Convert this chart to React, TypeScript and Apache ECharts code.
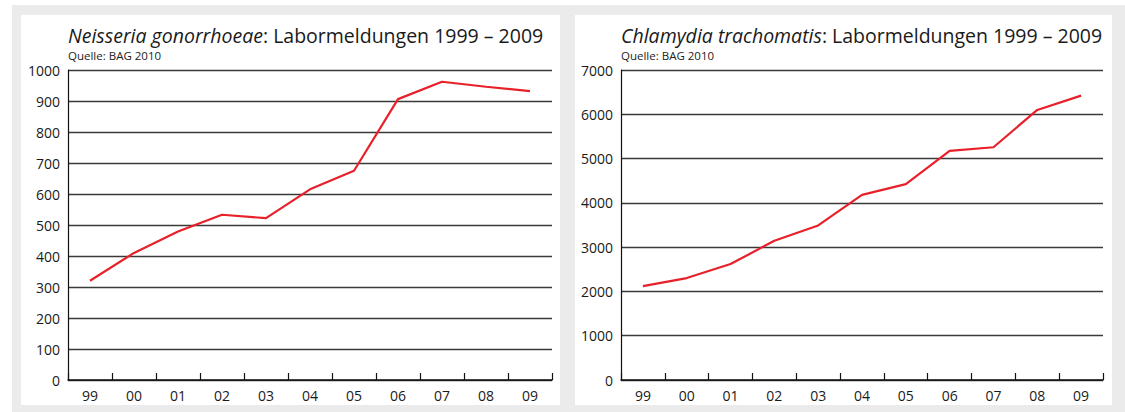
import React, { useEffect, useRef } from "react";
import * as echarts from "echarts";

const years = ["99", "00", "01", "02", "03", "04", "05", "06", "07", "08", "09"];
const gonorrhoeae = [320, 410, 479, 533, 522, 615, 675, 906, 962, 946, 932];
const chlamydia = [2121, 2302, 2618, 3143, 3490, 4181, 4422, 5173, 5256, 6098, 6422];
const leftTicks = { min: 0, max: 1000, interval: 100 };
const rightTicks = { min: 0, max: 7000, interval: 1000 };
const titleSuffix = ": Labormeldungen 1999 – 2009";
const source = "Quelle: BAG 2010";

const FONT = "'Open Sans', sans-serif";
const RED = "#e8202a";

export default function App() {
  const ref = useRef<HTMLDivElement>(null);

  useEffect(() => {
    if (!ref.current) return;
    const chart = echarts.init(ref.current, undefined, { renderer: "svg" });

    const xAxisBase = (gridIndex: number) => ({
      type: "category" as const,
      gridIndex,
      data: years,
      boundaryGap: true,
      axisLine: { show: true, lineStyle: { color: "#111", width: 1.5 } },
      axisTick: { show: true, inside: true, length: 7, lineStyle: { color: "#111", width: 1.2 } },
      axisLabel: { color: "#1a1a1a", fontSize: 14, fontFamily: FONT, margin: 8 },
      splitLine: { show: false },
    });

    const yAxisBase = (gridIndex: number, t: { min: number; max: number; interval: number }) => ({
      type: "value" as const,
      gridIndex,
      min: t.min,
      max: t.max,
      interval: t.interval,
      axisLine: { show: true, lineStyle: { color: "#111", width: 1.2 } },
      axisTick: { show: false },
      axisLabel: {
        color: "#1a1a1a",
        fontSize: 14,
        fontFamily: FONT,
        margin: 8,
        formatter: (v: number) => String(v),
      },
      splitLine: { show: true, lineStyle: { color: "#3a3a3a", width: 1.3 } },
    });

    const mainTitle = (left: number, italic: string) => ({
      left,
      top: 25,
      padding: 0,
      text: `{i|${italic}}{n|${titleSuffix}}`,
      textStyle: {
        fontSize: 19.5,
        fontFamily: FONT,
        fontWeight: "normal" as const,
        color: "#1a1a1a",
        rich: {
          i: { fontStyle: "italic" as const, fontSize: 19.5, fontFamily: FONT, color: "#1a1a1a" },
          n: { fontSize: 19.5, fontFamily: FONT, color: "#1a1a1a" },
        },
      },
    });

    const subTitle = (left: number) => ({
      left,
      top: 49,
      padding: 0,
      text: source,
      textStyle: { fontSize: 11.5, fontFamily: FONT, fontWeight: "normal" as const, color: "#222" },
    });

    chart.setOption({
      animation: false,
      backgroundColor: "#ffffff",
      graphic: [
        { type: "rect", silent: true, z: -10, shape: { x: 12, y: 5, width: 1113, height: 407 }, style: { fill: "#ebebec" } },
        { type: "rect", silent: true, z: -9, shape: { x: 21, y: 15, width: 539, height: 390 }, style: { fill: "#ffffff" } },
        { type: "rect", silent: true, z: -9, shape: { x: 575, y: 15, width: 537, height: 390 }, style: { fill: "#ffffff" } },
      ],
      title: [
        mainTitle(68, "Neisseria gonorrhoeae"),
        subTitle(68),
        mainTitle(621, "Chlamydia trachomatis"),
        subTitle(621),
      ],
      grid: [
        { left: 68, top: 70, width: 484, height: 310, containLabel: false },
        { left: 621, top: 70, width: 482, height: 310, containLabel: false },
      ],
      xAxis: [xAxisBase(0), xAxisBase(1)],
      yAxis: [yAxisBase(0, leftTicks), yAxisBase(1, rightTicks)],
      series: [
        {
          type: "line",
          xAxisIndex: 0,
          yAxisIndex: 0,
          data: gonorrhoeae,
          symbol: "none",
          lineStyle: { color: RED, width: 2.2 },
          itemStyle: { color: RED },
        },
        {
          type: "line",
          xAxisIndex: 1,
          yAxisIndex: 1,
          data: chlamydia,
          symbol: "none",
          lineStyle: { color: RED, width: 2.2 },
          itemStyle: { color: RED },
        },
      ],
    });

    return () => chart.dispose();
  }, []);

  return (
    <div
      ref={ref}
      style={{ position: "absolute", left: 0, top: 0, width: 1125, height: 412 }}
    />
  );
}
